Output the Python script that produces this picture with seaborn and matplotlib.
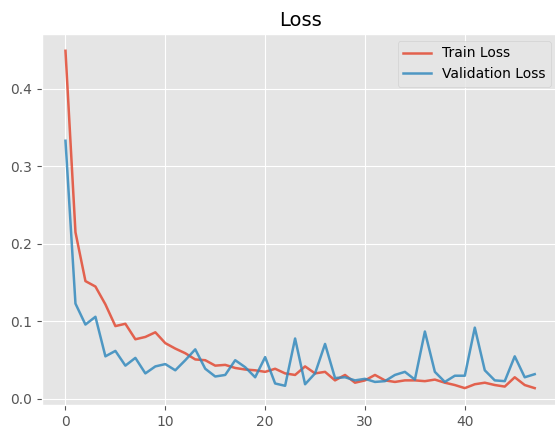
import matplotlib
matplotlib.use("Agg")
import matplotlib.pyplot as plt
import seaborn as sns
import pandas as pd

epochs = list(range(48))
train_loss = [0.449, 0.215, 0.152, 0.145, 0.122, 0.094, 0.097, 0.077, 0.080, 0.086,
              0.072, 0.065, 0.059, 0.051, 0.050, 0.043, 0.044, 0.040, 0.038, 0.037,
              0.035, 0.039, 0.033, 0.031, 0.042, 0.033, 0.035, 0.024, 0.031, 0.021,
              0.024, 0.031, 0.024, 0.022, 0.024, 0.024, 0.023, 0.025, 0.021, 0.018,
              0.014, 0.019, 0.021, 0.018, 0.016, 0.028, 0.018, 0.014]
val_loss = [0.333, 0.123, 0.096, 0.106, 0.055, 0.062, 0.043, 0.053, 0.033, 0.042,
            0.045, 0.037, 0.050, 0.064, 0.039, 0.029, 0.031, 0.050, 0.041, 0.028,
            0.054, 0.020, 0.017, 0.078, 0.019, 0.033, 0.071, 0.027, 0.028, 0.024,
            0.026, 0.022, 0.023, 0.031, 0.035, 0.025, 0.087, 0.035, 0.022, 0.030,
            0.030, 0.092, 0.037, 0.024, 0.023, 0.055, 0.028, 0.032]

plt.style.use("ggplot")
fig = plt.figure(figsize=(5.55, 4.32), dpi=100)
ax = fig.add_axes([0.0757, 0.0625, 0.93, 0.859])

df = pd.DataFrame({"epoch": epochs * 2,
                   "loss": train_loss + val_loss,
                   "series": ["Train Loss"] * len(epochs) + ["Validation Loss"] * len(epochs)})
sns.lineplot(data=df, x="epoch", y="loss", hue="series", ax=ax,
             palette=["#E24A33", "#348ABD"], linewidth=1.8, alpha=0.85)
ax.set_xlabel("")
ax.set_ylabel("")
ax.set_title("Loss", fontsize=14)
ax.set_xticks([0, 10, 20, 30, 40])
ax.set_yticks([0.0, 0.1, 0.2, 0.3, 0.4])
ax.tick_params(labelsize=10)
leg = ax.legend(loc="upper right", fontsize=10)
leg.set_title(None)
fig.savefig("out.png", dpi=100)
